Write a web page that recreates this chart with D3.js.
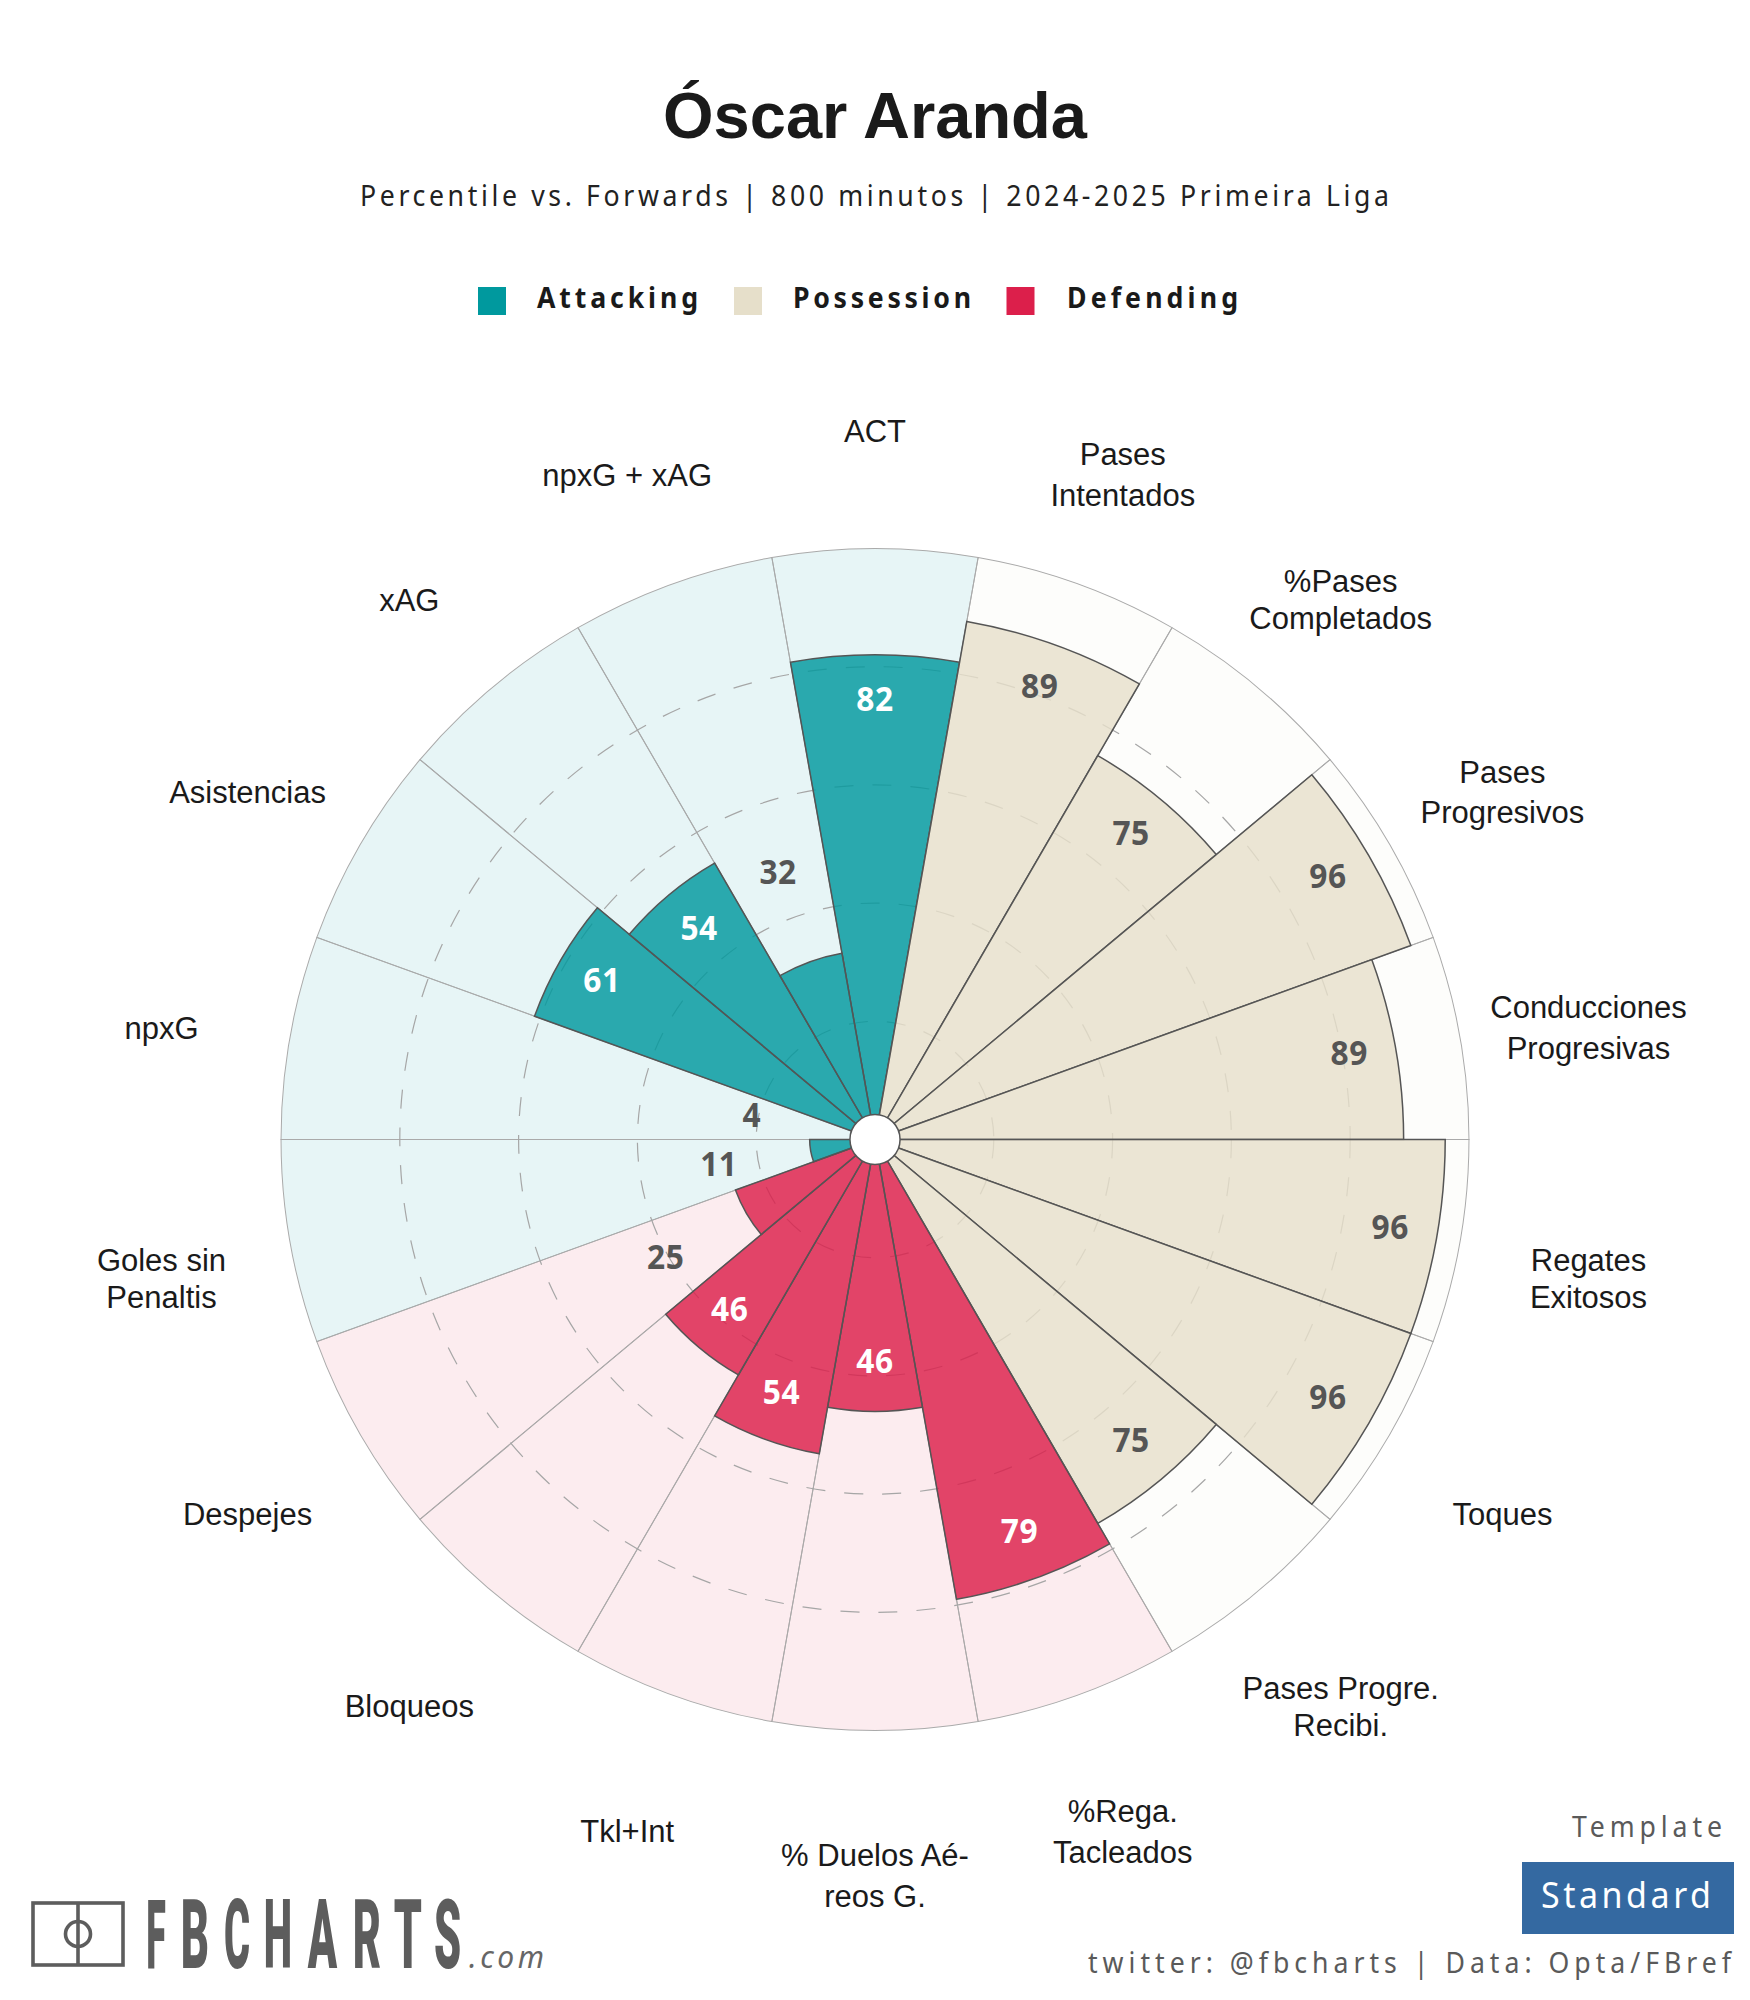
<!DOCTYPE html>
<html><head><meta charset="utf-8">
<script src="https://cdnjs.cloudflare.com/ajax/libs/d3/7.8.5/d3.min.js"></script>
<style>html,body{margin:0;padding:0;background:#fff}svg{display:block}</style></head>
<body><svg id="c" width="1750" height="2000"></svg>
<script>
const categories=[["ACT"],["Pases","Intentados"],["%Pases","Completados"],["Pases","Progresivos"],["Conducciones","Progresivas"],["Regates","Exitosos"],["Toques"],["Pases Progre.","Recibi."],["%Rega.","Tacleados"],["% Duelos Aé-","reos G."],["Tkl+Int"],["Bloqueos"],["Despejes"],["Goles sin","Penaltis"],["npxG"],["Asistencias"],["xAG"],["npxG + xAG"]];
const values=[82,89,75,96,89,96,96,75,79,46,54,46,25,11,4,61,54,32];
const groups=["Attacking","Possession","Possession","Possession","Possession","Possession","Possession","Possession","Defending","Defending","Defending","Defending","Defending","Attacking","Attacking","Attacking","Attacking","Attacking"];
const legendNames=["Attacking","Possession","Defending"];
const legendColors=["#00999e","#e6dfca","#dc1f4b"];
const ringTicks=[20,40,60,80];
const title="Óscar Aranda";
const subtitle="Percentile vs. Forwards | 800 minutos | 2024-2025 Primeira Liga";

const UI='"Noto Sans",sans-serif', LAB='"Liberation Sans",Arial,sans-serif';
const svg=d3.select("#c");
svg.append("rect").attr("width",1750).attr("height",2000).attr("fill","#fff");
const cx=875,cy=1139.5,R=592.5,hole=25;
const color=d3.scaleOrdinal(legendNames,legendColors);
const bgOpacity=d3.scaleOrdinal(legendNames,[.095,.075,.085]);
const r=d3.scaleLinear([0,100],[0,R]);
const ang=d3.scaleBand(d3.range(values.length),[-Math.PI/18,2*Math.PI-Math.PI/18]);
const g=svg.append("g").attr("transform",`translate(${cx},${cy}) scale(1.0025,.9975)`);
const arc=d3.arc();
const rows=values.map((v,i)=>({v,i,grp:groups[i],a0:ang(i),a1:ang(i)+ang.bandwidth()}));
// background sectors
g.selectAll("path.bg").data(rows).join("path").attr("class","bg")
 .attr("d",d=>arc({innerRadius:0,outerRadius:r(100),startAngle:d.a0,endAngle:d.a1}))
 .attr("fill",d=>color(d.grp)).attr("fill-opacity",d=>bgOpacity(d.grp))
 .attr("stroke","#aaa").attr("stroke-width",1);
// rings
g.selectAll("circle.ring").data(ringTicks).join("circle").attr("class","ring")
 .attr("r",d=>r(d)).attr("fill","none").attr("stroke","#a6a6a6").attr("stroke-width",1.2)
 .attr("stroke-dasharray","19 19");
// bars
g.selectAll("path.bar").data(rows).join("path").attr("class","bar")
 .attr("d",d=>arc({innerRadius:0,outerRadius:r(d.v),startAngle:d.a0,endAngle:d.a1}))
 .attr("fill",d=>color(d.grp)).attr("fill-opacity",.82)
 .attr("stroke","#555").attr("stroke-width",1.5);
g.append("circle").attr("r",hole).attr("fill","#fff").attr("stroke","#555").attr("stroke-width",1.5);
// value labels
const inside=v=>v>=40;
const offset=v=>inside(v)?-47:(v<10?101:93);
g.selectAll("text.val").data(rows).join("text").attr("class","val")
 .attr("transform",d=>{const m=(d.a0+d.a1)/2,q=r(d.v)+offset(d.v);return `translate(${q*Math.sin(m)},${-q*Math.cos(m)-4}) scale(.93,1)`})
 .attr("text-anchor","middle").attr("dominant-baseline","central")
 .attr("font-family",UI).attr("font-weight",700).attr("font-size",34).attr("letter-spacing",.6)
 .attr("fill",d=>(inside(d.v)&&d.grp!=="Possession")?"#fff":"#555")
 .text(d=>d.v);
// category labels
const lrx=724.5, lry=722, lyo=14;
const gaps=[0,41,37,40,41,37,0,37,41,41,0,0,0,37,0,0,0,0];
rows.forEach(d=>{
  const m=(d.a0+d.a1)/2, x=cx+lrx*Math.sin(m), y=cy+lyo-lry*Math.cos(m), ls=categories[d.i];
  ls.forEach((t,k)=>{
    svg.append("text").attr("x",x).attr("y",y+(k-(ls.length-1)/2)*gaps[d.i])
     .attr("text-anchor","middle").attr("dominant-baseline","central")
     .attr("font-family",LAB).attr("font-size",31).attr("fill","#1a1a1a").text(t);
  });
});
// fitted text helper: x start, baseline, total width, size, horizontal glyph scale
function fit(t,x,y,w,size,sx,fill,weight){
  svg.append("text").attr("transform",`translate(${x},${y}) scale(${sx},1)`)
   .attr("textLength",w/sx).attr("font-family",UI).attr("font-size",size)
   .attr("font-weight",weight||400).attr("fill",fill).text(t);
}
// title
svg.append("text").attr("x",875).attr("y",138).attr("text-anchor","middle").attr("font-family",LAB)
 .attr("font-weight",700).attr("font-size",65).attr("fill","#1a1a1a").text(title);
fit(subtitle,360,206,1029,29,.92,"#222");
// legend
const lgX=[478,734,1006.5], lgT=[537,793,1067], lgW=[161,178,171];
legendNames.forEach((n,i)=>{
  svg.append("rect").attr("x",lgX[i]).attr("y",287).attr("width",28).attr("height",28).attr("fill",legendColors[i]);
  fit(n,lgT[i],308,lgW[i],29,.92,"#1a1a1a",700);
});
// logo
const lg=svg.append("g").attr("fill","none").attr("stroke","#5d5d5d").attr("stroke-width",3.6);
lg.append("rect").attr("x",33).attr("y",1903).attr("width",90).attr("height",62);
lg.append("line").attr("x1",78).attr("x2",78).attr("y1",1903).attr("y2",1965);
lg.append("ellipse").attr("cx",78).attr("cy",1934).attr("rx",12.5).attr("ry",12.5);
const fb="FBCHARTS".split("");
const fbX=[147,182,225,265,309,354,395,435], fbW=[18,26,24,26,27,26,26,25];
fb.forEach((c,i)=>{
  const t=svg.append("text").attr("font-family","Roboto,"+LAB).attr("font-weight",900).attr("font-size",96)
    .attr("fill","#5d5d5d").text(c);
  const len=t.node().getComputedTextLength();
  const s=fbW[i]/(len*.92);
  t.attr("transform",`translate(${fbX[i]-len*.04*s},1968) scale(${s},1)`);
});
svg.append("text").attr("x",469).attr("y",1968).attr("textLength",75).attr("font-family",UI).attr("font-style","italic")
 .attr("font-size",30).attr("fill","#666").text(".com");
// template
fit("Template",1572,1837,150,29,.92,"#5a5a5a");
svg.append("rect").attr("x",1522).attr("y",1862).attr("width",212).attr("height",72).attr("fill","#3469a1");
fit("Standard",1541,1908,170,37,.92,"#fff");
fit("twitter: @fbcharts | Data: Opta/FBref",1088,1973,643,29,.92,"#5a5a5a");
</script></body></html>
